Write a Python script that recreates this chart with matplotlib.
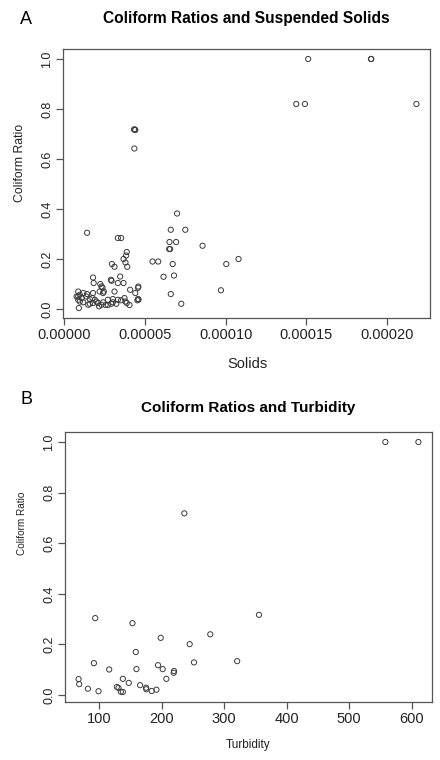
import matplotlib
matplotlib.use("Agg")
import matplotlib.pyplot as plt
import numpy as np

plt.rcParams['font.family'] = ['Liberation Sans', 'DejaVu Sans']

# Panel A: suspended solids vs coliform ratio
solids = [
    1.512e-4, 1.901e-4, 1.903e-4, 1.438e-4, 1.492e-4, 2.183e-4,
    4.32e-5, 4.36e-5, 4.40e-5, 4.34e-5,
    1.41e-5, 3.32e-5, 3.52e-5,
    3.87e-5, 3.83e-5, 3.67e-5, 3.79e-5, 3.90e-5,
    2.95e-5, 3.11e-5,
    3.46e-5, 2.89e-5, 2.93e-5,
    1.78e-5, 1.82e-5,
    2.23e-5, 2.30e-5, 2.36e-5, 2.19e-5, 2.45e-5,
    3.32e-5, 3.67e-5, 3.11e-5, 4.08e-5,
    4.59e-5, 4.57e-5, 4.40e-5, 4.57e-5, 4.53e-5, 4.60e-5, 4.04e-5,
    5.47e-5, 5.82e-5, 6.15e-5, 6.60e-5, 6.99e-5, 7.50e-5, 6.52e-5, 6.93e-5,
    6.50e-5, 6.56e-5, 6.72e-5, 6.80e-5, 6.60e-5, 7.25e-5, 8.57e-5,
    1.004e-4, 9.71e-5, 1.08e-4,
    0.86e-5, 0.76e-5, 0.86e-5, 0.96e-5, 1.17e-5, 1.41e-5, 0.86e-5, 0.96e-5,
    1.07e-5, 0.90e-5, 1.17e-5, 1.48e-5, 1.58e-5, 1.78e-5, 1.78e-5, 1.74e-5,
    1.89e-5, 1.99e-5, 2.09e-5, 2.15e-5, 2.30e-5, 2.40e-5, 2.56e-5, 2.70e-5,
    2.91e-5, 3.01e-5, 3.22e-5, 3.32e-5, 3.52e-5, 3.73e-5, 3.79e-5, 3.87e-5,
    2.40e-5, 1.37e-5, 1.58e-5, 2.70e-5, 3.01e-5,
]
ratio_a = [
    1.0, 1.0, 1.0, 0.82, 0.82, 0.82,
    0.718, 0.718, 0.716, 0.642,
    0.305, 0.284, 0.284,
    0.228, 0.214, 0.200, 0.186, 0.169,
    0.180, 0.169,
    0.130, 0.117, 0.113,
    0.126, 0.104,
    0.100, 0.090, 0.086, 0.070, 0.070,
    0.104, 0.104, 0.070, 0.077,
    0.090, 0.085, 0.064, 0.040, 0.035, 0.038, 0.016,
    0.190, 0.190, 0.129, 0.317, 0.382, 0.317, 0.268, 0.268,
    0.240, 0.240, 0.180, 0.134, 0.060, 0.021, 0.253,
    0.180, 0.075, 0.200,
    0.070, 0.050, 0.050, 0.057, 0.064, 0.060, 0.037, 0.030,
    0.044, 0.004, 0.027, 0.017, 0.021, 0.024, 0.064, 0.044,
    0.037, 0.030, 0.024, 0.011, 0.017, 0.027, 0.016, 0.016,
    0.021, 0.027, 0.021, 0.037, 0.035, 0.044, 0.030, 0.024,
    0.064, 0.050, 0.040, 0.037, 0.040,
]

# Panel B: turbidity vs coliform ratio
turbidity = [
    236.2, 93.6, 153.2, 198.4, 277.7, 244.7, 158.5, 91.5, 251.6, 320.7,
    116.0, 159.6, 194.1, 201.6, 219.7, 219.2, 207.4, 137.8, 147.3, 67.0,
    68.0, 81.9, 98.9, 128.2, 130.9, 134.6, 137.8, 165.4, 175.0, 175.3,
    184.0, 191.5, 355.6, 557.8, 610.7,
]
ratio_b = [
    0.718, 0.304, 0.284, 0.226, 0.240, 0.201, 0.170, 0.126, 0.129, 0.134,
    0.101, 0.1025, 0.118, 0.1025, 0.095, 0.088, 0.064, 0.064, 0.048, 0.063,
    0.043, 0.025, 0.015, 0.032, 0.028, 0.013, 0.012, 0.039, 0.029, 0.023,
    0.016, 0.021, 0.317, 1.0, 1.0,
]

xticks_a = [0.0, 0.00005, 0.00010, 0.00015, 0.00020]
xticklabels_a = ["0.00000", "0.00005", "0.00010", "0.00015", "0.00020"]
yticks = [0.0, 0.2, 0.4, 0.6, 0.8, 1.0]
yticklabels = ["0.0", "0.2", "0.4", "0.6", "0.8", "1.0"]
xticks_b = [100, 200, 300, 400, 500, 600]

W, H = 440, 760
fig = plt.figure(figsize=(W / 100, H / 100), dpi=100)
fig.patch.set_facecolor("white")


def box(l, t, r, b):
    return [l / W, 1 - b / H, (r - l) / W, (b - t) / H]


def r_range(v):
    lo, hi = min(v), max(v)
    d = (hi - lo) * 0.04
    return lo - d, hi + d


def style(ax, xtick_fs, ytick_fs):
    for s in ax.spines.values():
        s.set_color("#555555")
        s.set_linewidth(0.9)
    ax.tick_params(direction="out", length=5, width=0.9, color="#555555",
                   labelcolor="#222222", pad=2)
    ax.tick_params(axis="x", labelsize=xtick_fs)
    ax.tick_params(axis="y", labelsize=ytick_fs)
    for lab in ax.get_yticklabels():
        lab.set_rotation(90)
        lab.set_va("center")


# Panel A
axA = fig.add_axes(box(63, 49, 430, 318))
axA.scatter(solids, ratio_a, s=14, facecolors="none", edgecolors="#3a3a3a",
            linewidths=0.7)
axA.set_xlim(*r_range(solids))
axA.set_ylim(*r_range(ratio_a))
axA.set_xticks(xticks_a)
axA.set_xticklabels(xticklabels_a)
axA.set_yticks(yticks)
axA.set_yticklabels(yticklabels)
style(axA, 10.5, 9)

fig.text(20 / W, 1 - 20 / H, "A", fontsize=13, ha="left", va="center")
fig.text(246 / W, 1 - 19 / H, "Coliform Ratios and Suspended Solids",
         fontsize=11.2, fontweight="bold", ha="center", va="center")
fig.text(20 / W, 1 - 163 / H, "Coliform Ratio", fontsize=8.8,
         rotation=90, ha="center", va="center", color="#222222")
fig.text(247 / W, 1 - 364 / H, "Solids", fontsize=10.5,
         ha="center", va="center", color="#222222")

# Panel B
axB = fig.add_axes(box(65, 432, 432, 702))
axB.scatter(turbidity, ratio_b, s=14, facecolors="none", edgecolors="#3a3a3a",
            linewidths=0.7)
axB.set_xlim(*r_range(turbidity))
axB.set_ylim(*r_range(ratio_b))
axB.set_xticks(xticks_b)
axB.set_yticks(yticks)
axB.set_yticklabels(yticklabels)
style(axB, 10.5, 9)

fig.text(20 / W, 1 - 400 / H, "B", fontsize=13, ha="left", va="center")
fig.text(248 / W, 1 - 408 / H, "Coliform Ratios and Turbidity",
         fontsize=11, fontweight="bold", ha="center", va="center")
fig.text(22 / W, 1 - 523 / H, "Coliform Ratio", fontsize=7.2,
         rotation=90, ha="center", va="center", color="#222222")
fig.text(248 / W, 1 - 745 / H, "Turbidity", fontsize=8.5,
         ha="center", va="center", color="#222222")

fig.savefig("out.png", dpi=100)
